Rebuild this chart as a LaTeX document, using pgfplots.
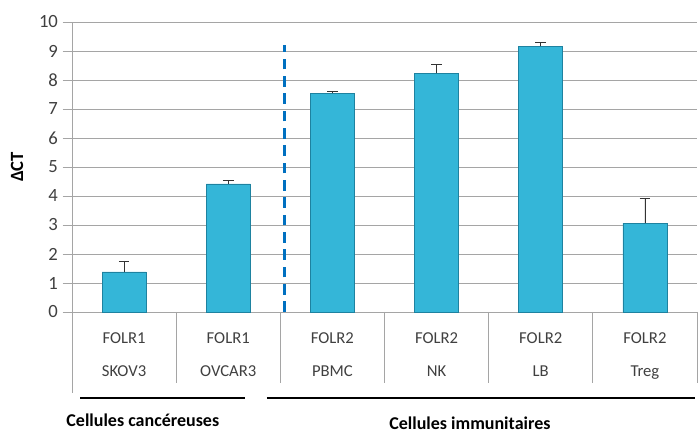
\documentclass[border=0pt]{standalone}
\usepackage{pgfplots}
\pgfplotsset{compat=1.18}
\usepackage{fontspec}
\setmainfont{Carlito}
\definecolor{barfill}{RGB}{52,182,216}
\definecolor{bardark}{RGB}{30,130,160}
\definecolor{gridgray}{RGB}{165,165,165}
\definecolor{dashblue}{RGB}{0,112,192}
\begin{document}
\begin{tikzpicture}
\useasboundingbox (0pt,0pt) rectangle (524.25pt,324pt);
\begin{axis}[
  at={(54pt,90pt)}, anchor=south west,
  scale only axis, width=468.75pt, height=217.5pt,
  ymin=0, ymax=10, ytick={0,1,...,10},
  xmin=-0.5, xmax=5.5,
  xtick={0,1,2,3,4,5},
  xticklabels={FOLR1\\[10.5pt]SKOV3, FOLR1\\[10.5pt]OVCAR3, FOLR2\\[10.5pt]PBMC, FOLR2\\[10.5pt]NK, FOLR2\\[10.5pt]LB, FOLR2\\[10.5pt]Treg},
  xticklabel style={align=center, font=\fontsize{12.5}{14}\selectfont, text=black!75, yshift=-5pt},
  yticklabel style={font=\fontsize{14}{15}\selectfont, text=black!75},
  /pgf/number format/assume math mode=true,
  major x tick style={draw=none},
  ytick style={gridgray, line width=0.6pt},
  tick align=outside, major tick length=7pt,
  axis x line*=bottom, axis y line*=left,
  axis line style={gridgray, line width=0.6pt},
  ymajorgrids, grid style={gridgray, line width=0.6pt},
  ylabel={ΔCT}, ylabel style={font=\fontsize{14}{15}\selectfont\bfseries, yshift=5pt},
  clip=false,
]
\addplot[ybar, bar width=33pt, draw=bardark, line width=0.4pt, fill=barfill,
  error bars/.cd, y dir=plus, y explicit,
  error bar style={black!80, line width=0.6pt}, error mark options={black!80, line width=0.6pt, mark size=4pt, rotate=90}]
coordinates {
 (0,1.38) +- (0,0.38)
 (1,4.42) +- (0,0.13)
 (2,7.55) +- (0,0.04)
 (3,8.23) +- (0,0.31)
 (4,9.17) +- (0,0.12)
 (5,3.06) +- (0,0.84)
};
% table separators
\draw[gridgray, line width=0.6pt] (axis cs:-0.5,0) -- (axis cs:-0.5,-2.8);
\pgfplotsinvokeforeach{0.5,1.5,2.5,3.5,4.5,5.5}{
  \draw[gridgray, line width=0.6pt] (axis cs:#1,0) -- (axis cs:#1,-2.45);
}
% dashed separator
\draw[dashblue, line width=2pt, dash pattern=on 8pt off 5pt] (axis cs:1.54,0) -- (axis cs:1.54,9.2);
% group underlines
\draw[black, line width=1pt] (axis cs:-0.42,-2.97) -- (axis cs:1.16,-2.97);
\draw[black, line width=1pt] (axis cs:1.37,-2.97) -- (axis cs:5.48,-2.97);
\node[font=\fontsize{13.5}{14}\selectfont\bfseries] at (axis cs:0.18,-3.72) {Cellules cancéreuses};
\node[font=\fontsize{13.5}{14}\selectfont\bfseries] at (axis cs:3.32,-3.83) {Cellules immunitaires};
\end{axis}
\end{tikzpicture}
\end{document}
